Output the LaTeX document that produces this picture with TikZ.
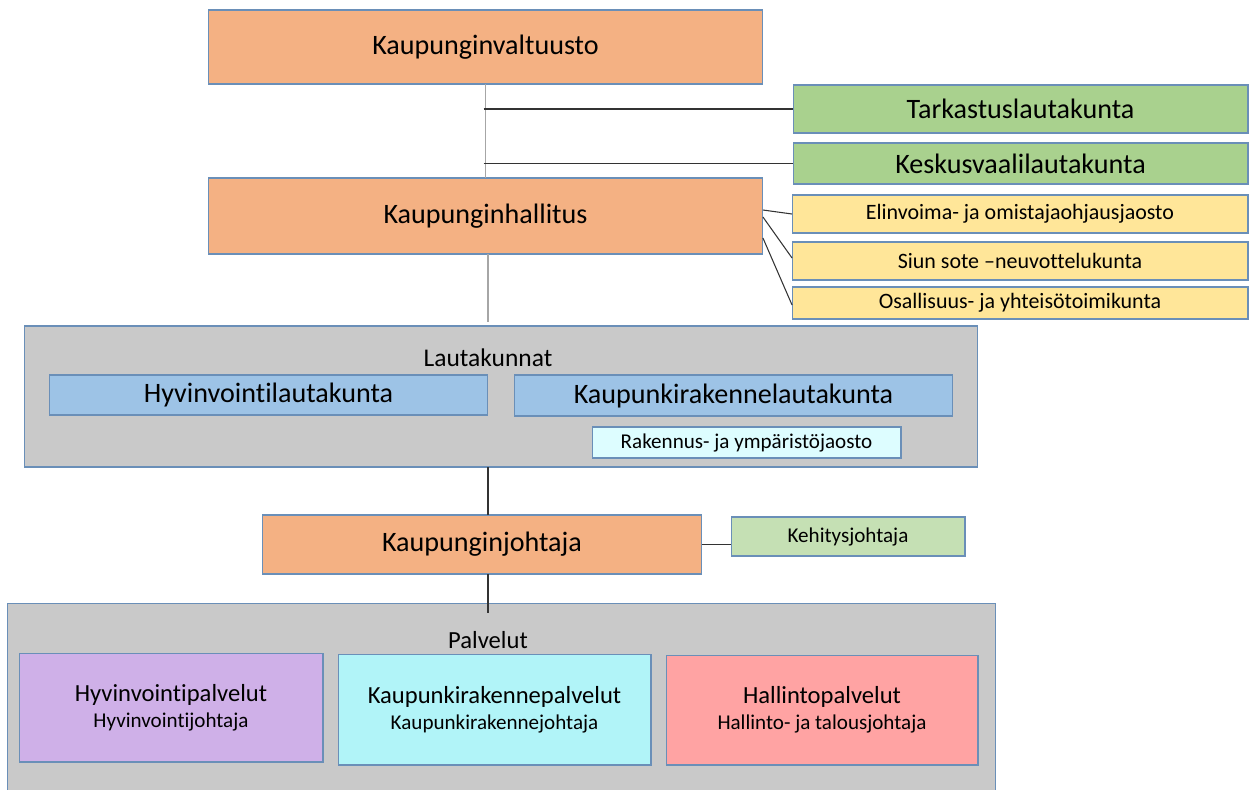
\documentclass[tikz,border=0pt]{standalone}
\usepackage{fontspec}
\setmainfont{Carlito}[Ligatures=NoCommon]
\usetikzlibrary{calc}

\definecolor{orangebox}{HTML}{F4B183}
\definecolor{greenbox}{HTML}{A9D18E}
\definecolor{yellowbox}{HTML}{FFE699}
\definecolor{greybox}{HTML}{C9C9C9}
\definecolor{bluebox}{HTML}{9DC3E6}
\definecolor{cyanbox}{HTML}{DDFDFF}
\definecolor{lightgreenbox}{HTML}{C5E0B4}
\definecolor{lilacbox}{HTML}{CFB0E8}
\definecolor{aquabox}{HTML}{B1F4F8}
\definecolor{pinkbox}{HTML}{FFA3A3}
\definecolor{boxline}{HTML}{6A8FB8}

\newcommand{\fsz}[1]{\fontsize{#1}{1.2\dimexpr#1pt\relax}\selectfont}

\tikzset{
  box/.style={draw=boxline, line width=0.6pt, inner sep=0pt, outer sep=0pt, align=center},
  big/.style={font=\fsz{16}},
  small/.style={font=\fsz{12.5}},
  link/.style={line width=0.6pt, black!80},
  faint/.style={line width=0.8pt, black!35}
}

\begin{document}
\begin{tikzpicture}[x=0.02cm, y=-0.02cm]

\useasboundingbox (0,0) rectangle (1250,789);

\node[box, big, fill=orangebox, minimum width=11.1cm, minimum height=1.48cm] (valt) at (485.5,47) {Kaupunginvaltuusto};
\node[box, big, fill=greenbox, minimum width=9.1cm, minimum height=0.96cm] (tark) at (1020.5,109) {Tarkastuslautakunta};
\node[box, big, fill=greenbox, minimum width=9.1cm, minimum height=0.82cm] (kesk) at (1020.5,163.5) {Keskusvaalilautakunta};
\node[box, big, fill=orangebox, minimum width=11.1cm, minimum height=1.52cm] (hall) at (485.5,216) {Kaupunginhallitus};
\node[box, small, fill=yellowbox, minimum width=9.12cm, minimum height=0.76cm] (elin) at (1020,214) {Elinvoima- ja omistajaohjausjaosto};
\node[box, small, fill=yellowbox, minimum width=9.12cm, minimum height=0.76cm] (siun) at (1020,261) {Siun sote –neuvottelukunta};
\node[box, small, fill=yellowbox, minimum width=9.12cm, minimum height=0.64cm] (osal) at (1020,303) {Osallisuus- ja yhteisötoimikunta};

\node[box, fill=greybox, minimum width=19.08cm, minimum height=2.82cm] (lauta) at (501,396.5) {};
\node[font=\fsz{14.5}] (lautat) at (488,358) {Lautakunnat};
\node[box, big, fill=bluebox, minimum width=8.78cm, minimum height=0.8cm] (hyvl) at (268.5,395) {Hyvinvointilautakunta};
\node[box, big, fill=bluebox, minimum width=8.78cm, minimum height=0.82cm] (kaul) at (733.5,395.5) {Kaupunkirakennelautakunta};
\node[box, font=\fsz{12}, fill=cyanbox, minimum width=6.18cm, minimum height=0.62cm] (rak) at (746.5,442.5) {Rakennus- ja ympäristöjaosto};

\node[box, big, fill=orangebox, minimum width=8.8cm, minimum height=1.18cm] (joht) at (482,544.5) {Kaupunginjohtaja};
\node[box, font=\fsz{12}, fill=lightgreenbox, minimum width=4.68cm, minimum height=0.78cm] (kehi) at (848,536.5) {Kehitysjohtaja};

\node[box, fill=greybox, minimum width=19.78cm, minimum height=3.84cm] (palv) at (501.5,699) {};
\node[font=\fsz{14}] (palvt) at (488,640) {Palvelut};
\node[box, fill=lilacbox, minimum width=6.08cm, minimum height=2.18cm] (hyvp) at (171,707.5) {\fsz{14}Hyvinvointipalvelut\\[3pt]\fsz{12}Hyvinvointijohtaja};
\node[box, fill=aquabox, minimum width=6.26cm, minimum height=2.22cm] (kaup) at (494.5,709.5) {\fsz{14}Kaupunkirakennepalvelut\\[3pt]\fsz{12}Kaupunkirakennejohtaja};
\node[box, fill=pinkbox, minimum width=6.24cm, minimum height=2.2cm] (halp) at (822,710) {\fsz{14}Hallintopalvelut\\[3pt]\fsz{12}Hallinto- ja talousjohtaja};

\coordinate (vtop) at ($(valt.south)+(-2,0)$);
\coordinate (htop) at ($(hall.south)+(2.5,0)$);
\coordinate (jtop) at ($(joht.north)+(6,0)$);
\coordinate (jbot) at ($(joht.south)+(6,0)$);

\draw[faint] (valt.south) -- (hall.north);
\draw[link] (vtop |- tark.west) -- (tark.west);
\draw[link] (vtop |- kesk.west) -- (kesk.west);

\draw[link] ($(hall.east)+(0,-6)$) -- (elin.west);
\draw[link] ($(hall.east)+(0,1)$) -- ($(siun.west)+(0,-3)$);
\draw[link] ($(hall.east)+(0,22)$) -- ($(osal.west)+(0,2)$);

\draw[faint] (htop) -- ($(htop |- lauta.north)+(0,-4)$);
\draw[link] (jtop) -- (jtop |- lauta.south);
\draw[link] (joht.east) -- (joht.east -| kehi.west);
\draw[link] (jbot) -- ($(jbot |- palv.north)+(0,10)$);

\end{tikzpicture}
\end{document}
